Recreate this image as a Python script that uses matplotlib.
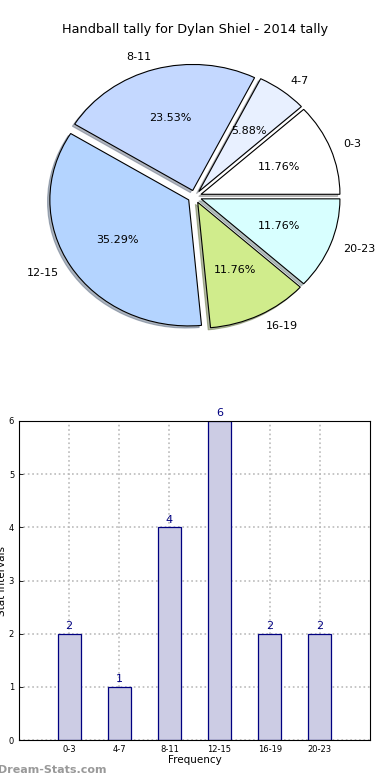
import numpy as np
import matplotlib
matplotlib.use("Agg")
from matplotlib import pyplot as plt

# Data.
labels = ["0-3", "4-7", "8-11", "12-15", "16-19", "20-23"]
counts = [2, 1, 4, 6, 2, 2]
pie_colors = ["#ffffff", "#e8f0ff", "#c4d8ff", "#b4d4ff", "#d0ec8c", "#d8ffff"]
explode = [0.05] * len(labels)

fig = plt.figure(figsize=(3.9, 7.8), dpi=100)

# Pie chart (old-style, stretched to the axes box).
ax1 = fig.add_axes([0.054, 0.546, 0.89, 0.404])
wedges, texts, autotexts = ax1.pie(
    counts, labels=labels, colors=pie_colors, explode=explode,
    autopct="%1.2f%%", shadow={"ox": -0.012, "oy": -0.012, "shade": 0.5},
    startangle=0, labeldistance=1.1, pctdistance=0.6,
    wedgeprops={"edgecolor": "black", "linewidth": 0.8},
    textprops={"fontsize": 8},
)
ax1.set_aspect("auto")
ax1.set_xlim(-1.25, 1.25)
ax1.set_ylim(-1.25, 1.25)
fig.text(0.5, 1 - 30 / 780, "Handball tally for Dylan Shiel - 2014 tally",
         ha="center", va="center", fontsize=9.3)

# Bar chart.
ax2 = fig.add_axes([19 / 390, 1 - 740 / 780, 351 / 390, 319 / 780])
x = np.arange(len(labels))
ax2.bar(x, counts, width=0.46, color="#ccccE4", edgecolor="#000080",
        linewidth=0.9, zorder=2)
for xi, c in zip(x, counts):
    ax2.text(xi, c + 0.05, str(c), ha="center", va="bottom",
             fontsize=8, color="#000080")
ax2.set_xlim(-1, 6)
ax2.set_ylim(0, 6)
ax2.set_xticks(x)
ax2.set_xticklabels(labels, fontsize=6)
ax2.set_yticks(range(7))
ax2.tick_params(axis="y", labelsize=6)
ax2.tick_params(direction="in", length=3, width=0.6)
ax2.grid(True, linestyle=":", color="#bbbbbb", linewidth=1.2, zorder=3)
ax2.set_xlabel("Frequency", fontsize=7.5, labelpad=1)
ax2.set_ylabel("Stat Intervals", fontsize=7.5, labelpad=1)

fig.text(-0.005, 1 - 770 / 780, "Dream-Stats.com", ha="left", va="center",
         fontsize=8, color="#999999", fontweight="bold")

fig.savefig("out.png", dpi=100)
